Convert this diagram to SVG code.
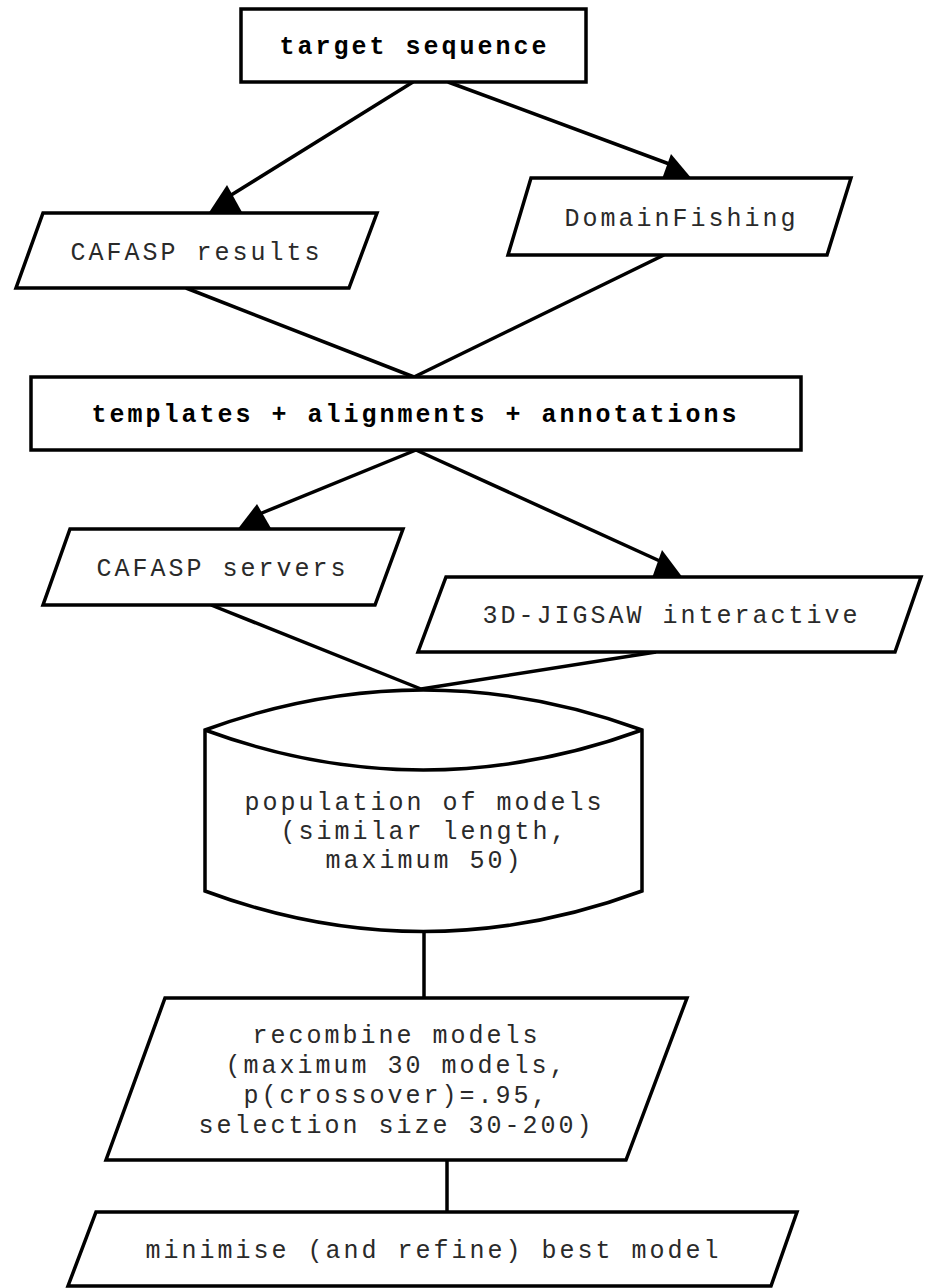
<svg xmlns="http://www.w3.org/2000/svg" width="926" height="1288" viewBox="0 0 926 1288">
<style>
.shape{fill:#fff;stroke:#000;stroke-width:3.5;stroke-linejoin:miter}
.edge{fill:none;stroke:#000;stroke-width:3.5}
.head{fill:#000;stroke:none}
.t{font-family:"Liberation Mono","Courier New",monospace;font-size:25px;letter-spacing:3px;fill:#2a2a2a;text-anchor:middle}
.b{font-weight:bold;fill:#000}
</style>
<rect width="926" height="1288" fill="#fff"/>
<g id="connectors">
<line class="edge" x1="413" y1="82" x2="228" y2="197"/>
<line class="edge" x1="448" y1="82" x2="672" y2="165"/>
<line class="edge" x1="186" y1="288" x2="414" y2="377"/>
<line class="edge" x1="664" y1="255" x2="414" y2="377"/>
<line class="edge" x1="416" y1="450" x2="257" y2="515"/>
<line class="edge" x1="416" y1="450" x2="662" y2="562"/>
<line class="edge" x1="211" y1="605" x2="421" y2="689"/>
<line class="edge" x1="656" y1="652" x2="421" y2="689"/>
<line class="edge" x1="424" y1="932" x2="424" y2="998"/>
<line class="edge" x1="447" y1="1160" x2="447" y2="1212"/>
<polygon class="head" points="208,214 227,185 243,214"/>
<polygon class="head" points="662,179 671,154 692,179"/>
<polygon class="head" points="237,530 257,504 272,530"/>
<polygon class="head" points="652,578 662,550 683,578"/>
</g>
<g id="target">
<rect class="shape" x="241" y="9" width="345" height="73"/>
<text class="t b" x="414.5" y="54">target sequence</text>
</g>
<g id="cafasp-results">
<polygon class="shape" points="43,213 377,213 349,288 16,288"/>
<text class="t" x="196.5" y="260">CAFASP results</text>
</g>
<g id="domainfishing">
<polygon class="shape" points="531,178 851,178 827,255 508,255"/>
<text class="t" x="681.5" y="226">DomainFishing</text>
</g>
<g id="templates">
<rect class="shape" x="31" y="377" width="770" height="73"/>
<text class="t b" x="415.5" y="422">templates + alignments + annotations</text>
</g>
<g id="cafasp-servers">
<polygon class="shape" points="70,529 403,529 375,605 43,605"/>
<text class="t" x="222.5" y="576">CAFASP servers</text>
</g>
<g id="jigsaw">
<polygon class="shape" points="446,577 921,577 895,652 418,652"/>
<text class="t" x="671.5" y="623">3D-JIGSAW interactive</text>
</g>
<g id="population">
<path class="shape" d="M205,730 Q423,650 642,730 L642,891 Q423,972 205,891 Z"/>
<path class="edge" d="M205,730 Q423,810 642,730"/>
<text class="t" x="424.5" y="810">population of models</text>
<text class="t" x="424.5" y="839">(similar length,</text>
<text class="t" x="424.5" y="868">maximum 50)</text>
</g>
<g id="recombine">
<polygon class="shape" points="165,998 687,998 626,1160 106,1160"/>
<text class="t" x="396.5" y="1043">recombine models</text>
<text class="t" x="396.5" y="1073">(maximum 30 models,</text>
<text class="t" x="396.5" y="1103">p(crossover)=.95,</text>
<text class="t" x="396.5" y="1133">selection size 30-200)</text>
</g>
<g id="minimise">
<polygon class="shape" points="96,1212 797,1212 771,1286 68,1286"/>
<text class="t" x="433.5" y="1258">minimise (and refine) best model</text>
</g>
</svg>
